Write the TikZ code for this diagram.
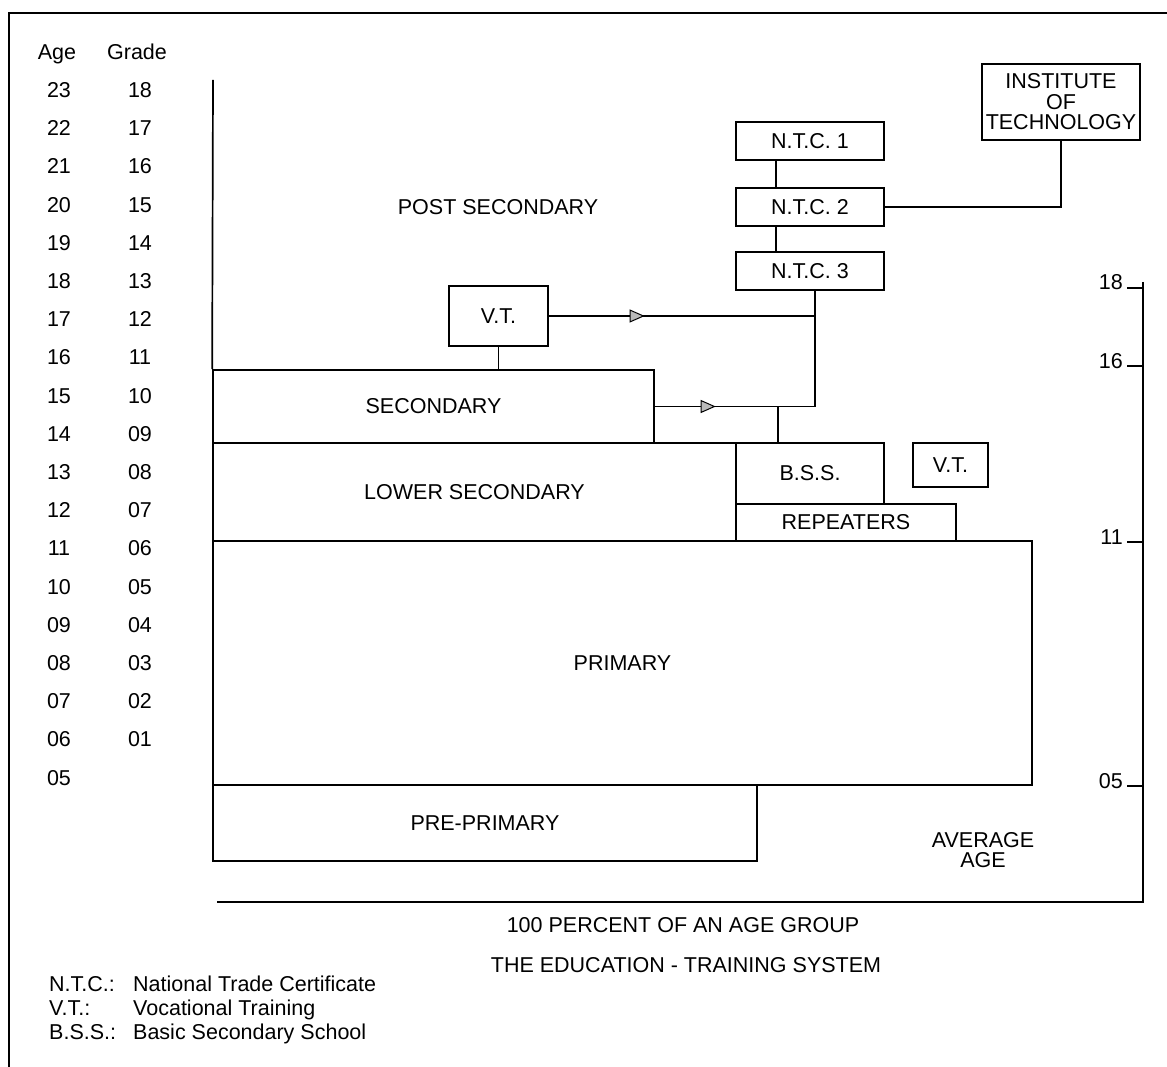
\documentclass[tikz,border=0pt]{standalone}
\usepackage{fontspec}
\setmainfont{Liberation Sans}
\usetikzlibrary{arrows.meta,decorations.markings}
\newcommand{\lab}{\fontsize{21.5}{20.5}\selectfont}
\tikzset{
  box/.style={draw, line width=1.7pt, inner sep=0pt, font=\lab, align=center},
  conn/.style={line width=1.7pt},
  frame/.style={line width=1.2pt},
  txt/.style={font=\lab, inner sep=0pt},
  midarrow/.style={conn, postaction={decorate}, decoration={markings,
      mark=at position #1 with {\arrow{Triangle[length=15pt, width=13pt, fill=gray!55, line width=1pt]}}}},
}

\begin{document}
\begin{tikzpicture}[x=1pt, y=-1pt]
  \useasboundingbox (0,0) rectangle (1167,1067);
  \draw[frame] (1167,13) -- (9,13) -- (9,1067);

  % Age and grade columns
  \node[txt, anchor=base] (agehd) at (57,60) {Age};
  \node[txt, anchor=base] (gradehd) at (137,60) {Grade};
  \foreach \a [count=\i from 0] in {23,22,21,20,19,18,17,16,15,14,13,12,11,10,09,08,07,06,05} {
    \node[txt, anchor=base] (age\i) at (59,{97.5+38.2*\i}) {\a};
  }
  \foreach \g [count=\i from 0] in {18,17,16,15,14,13,12,11,10,09,08,07,06,05,04,03,02,01} {
    \node[txt, anchor=base] (grade\i) at (140,{97.5+38.2*\i}) {\g};
  }

  % Levels of the system
  \node[box, minimum width=441pt, minimum height=73pt] (sec) at (433.5,406.5) {SECONDARY};
  \node[box, minimum width=523pt, minimum height=98pt] (lsec) at (474.5,492) {LOWER SECONDARY};
  \node[box, minimum width=148pt, minimum height=61pt] (bss) at (810,473.5) {B.S.S.};
  \node[box, minimum width=220pt, minimum height=37pt] (rep) at (846,522.5) {REPEATERS};
  \node[box, minimum width=75pt, minimum height=44pt] (vtb) at (950.5,465) {V.T.};
  \node[box, minimum width=819pt, minimum height=244pt] (prim) at (622.5,663) {PRIMARY};
  \node[box, minimum width=544pt, minimum height=76pt] (pre) at (485,823) {PRE-PRIMARY};

  % Post secondary
  \node[txt] (post) at (498,207) {POST SECONDARY};
  \node[box, minimum width=99pt, minimum height=60pt] (vt) at (498.5,316) {V.T.};
  \node[box, minimum width=148pt, minimum height=38pt] (ntc1) at (810,141) {N.T.C. 1};
  \node[box, minimum width=148pt, minimum height=38pt] (ntc2) at (810,207) {N.T.C. 2};
  \node[box, minimum width=148pt, minimum height=38pt] (ntc3) at (810,271) {N.T.C. 3};
  \node[box, minimum width=158pt, minimum height=76pt] (inst) at (1061,102) {INSTITUTE\\OF\\TECHNOLOGY};

  % Connections
  \coordinate (j1) at (815,316);
  \coordinate (j2) at (815,406.5);
  \draw[conn] ([xshift=-34pt]ntc1.south) -- ([xshift=-34pt]ntc2.north);
  \draw[conn] ([xshift=-34pt]ntc2.south) -- ([xshift=-34pt]ntc3.north);
  \draw[conn] (inst.south) |- (ntc2.east);
  \draw[conn] (vt.south) -- (vt.south |- sec.north);
  \draw[conn] (ntc3.south -| j1) -- (j2);
  \draw[midarrow=0.36] (vt.east) -- (j1);
  \draw[midarrow=0.38] (sec.east) -- (j2);
  \draw[conn] ([xshift=-32pt]bss.north |- j2) -- ([xshift=-32pt]bss.north);

  % Axes
  \draw[conn] (213,80) -- (sec.north west);
  \coordinate (rtop) at (1143,282);
  \coordinate (rbot) at (1143,902);
  \draw[conn] (rtop) -- (rbot) -- (217,902);
  \foreach \v/\y in {18/288,16/366,11/542,05/786} {
    \node[txt, anchor=base east] (avg\v) at (1123,{\y+2}) {\v};
    \draw[conn] (1127,\y) -- (1143,\y);
  }
  \node[txt, align=center] (avgage) at (983,850) {AVERAGE\\AGE};

  % Captions
  \node[txt] (cap1) at (683,925) {100 PERCENT OF AN AGE GROUP};
  \node[txt] (cap2) at (686,965) {THE EDUCATION - TRAINING SYSTEM};

  % Legend
  \foreach \k/\d/\y in {N.T.C.:/National Trade Certificate/991, V.T.:/Vocational Training/1015, B.S.S.:/Basic Secondary School/1039} {
    \node[txt, anchor=base west] at (49,\y) {\k};
    \node[txt, anchor=base west] at (133,\y) {\d};
  }
\end{tikzpicture}
\end{document}
